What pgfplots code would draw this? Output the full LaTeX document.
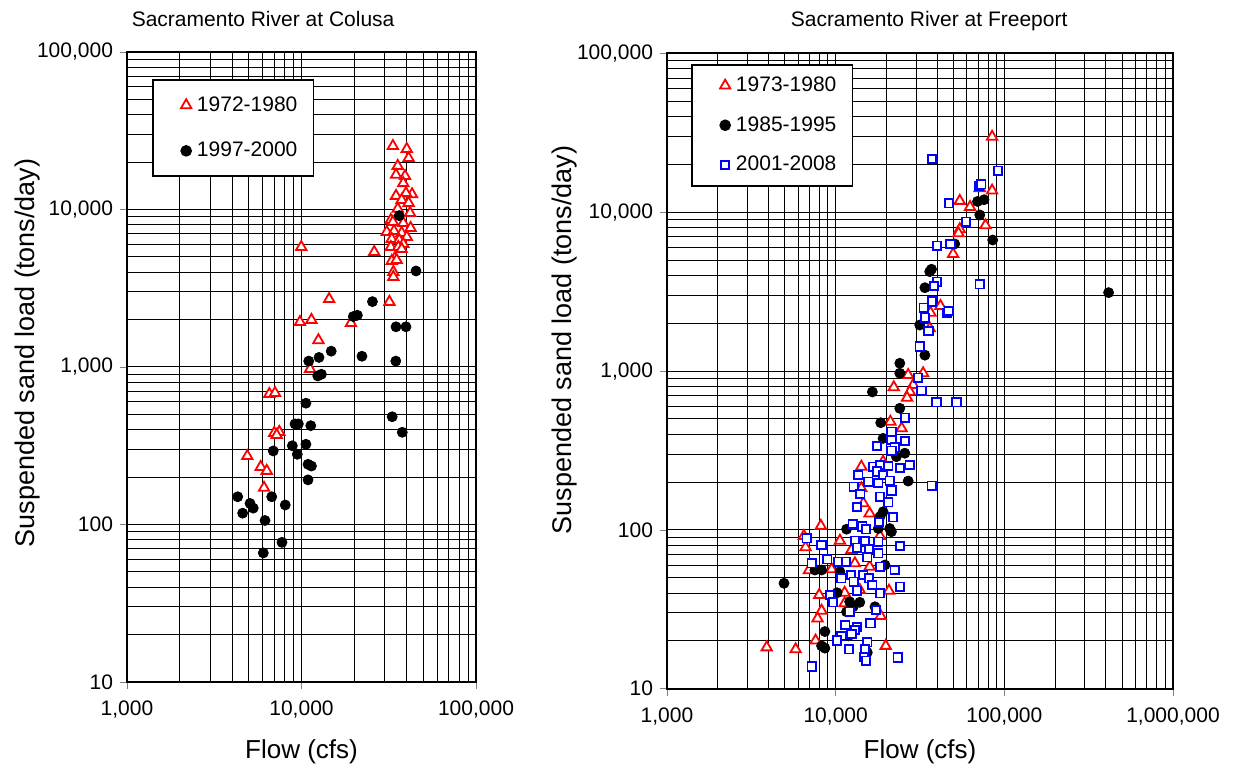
\documentclass[border=0pt]{standalone}
\usepackage{fontspec}
\setmainfont{Liberation Sans}
\usepackage{pgfplots}
\pgfplotsset{compat=1.18}
\definecolor{cRed}{RGB}{255,0,0}
\definecolor{cBlue}{RGB}{0,0,255}
\pgfplotsset{
  legend image code/.code={%
    \path (0pt,0pt) (13.3pt,0pt);
    \draw[#1] plot coordinates {(10.3pt,0pt)};},
  every axis/.append style={
    scale only axis,
    grid=both,
    major grid style={black, line width=0.5pt},
    minor grid style={black, line width=0.5pt},
    axis line style={black, line width=1pt},
    tick align=outside, tick pos=left,
    major tick length=3.5pt, minor tick length=0pt,
    tick label style={font=\fontsize{10.5}{12}\selectfont},
    xticklabel style={yshift=-2.5pt},
    title style={font=\fontsize{10.5}{12}\selectfont, anchor=center, yshift=0pt},
    xlabel style={font=\fontsize{13}{15}\selectfont},
    ylabel style={font=\fontsize{13.5}{16}\selectfont},
    legend cell align=left,
    legend style={draw=black, line width=0.8pt, fill=white,
      font=\fontsize{10.5}{12}\selectfont, anchor=north west,
      inner xsep=6pt, inner ysep=6.25pt, row sep=10pt},
  },
}
\tikzset{
  redtri/.style={only marks, mark=triangle*, mark size=3pt,
    mark options={draw=cRed, fill=white, line width=0.9pt}},
  blkdot/.style={only marks, mark=*, mark size=2.5pt,
    mark options={draw=black, fill=black}},
  bluesq/.style={only marks, mark=square*, mark size=2.1pt,
    mark options={draw=cBlue, fill=white, line width=0.9pt}},
}

\begin{document}
\begin{tikzpicture}
\path[use as bounding box] (0,0) rectangle (616.5pt,385pt);

% Colusa
\begin{loglogaxis}[
  at={(63.5pt,44pt)}, anchor=south west,
  width=174.5pt, height=315pt,
  xmin=1000, xmax=100000, ymin=10, ymax=100000,
  xtick={1000,10000,100000},
  xticklabels={{1,000},{10,000},{100,000}},
  minor xtick={2000,3000,4000,5000,6000,7000,8000,9000,
    20000,30000,40000,50000,60000,70000,80000,90000},
  ytick={10,100,1000,10000,100000},
  yticklabels={10,100,{1,000},{10,000},{100,000}},
  minor ytick={20,30,40,50,60,70,80,90,200,300,400,500,600,700,800,900,
    2000,3000,4000,5000,6000,7000,8000,9000,20000,30000,40000,50000,60000,70000,80000,90000},
  title={Sacramento River at Colusa},
  title style={at={(axis description cs:0.39,1.034)}},
  xlabel={Flow (cfs)},
  ylabel={Suspended sand load (tons/day)},
  xlabel style={at={(axis description cs:0.5,-0.11)}, anchor=center},
  ylabel style={at={(axis description cs:-0.284,0.522)}, anchor=center},
  legend style={at={(axis description cs:0.0716,0.957)}},
]
\addplot[redtri] coordinates {
  (33400,25300) (40100,24200) (41100,21200) (35600,18900) (34800,16600)
  (39200,16300) (38300,14700) (34800,12200) (43000,12500) (39700,12700)
  (37500,11500) (41100,11000) (35600,10100) (41900,9500) (32500,8580)
  (33400,8330) (38300,8200) (42200,7630) (30800,7200) (33900,7300)
  (37500,7100) (40100,6690) (32900,6500) (36300,6400) (38300,6040)
  (32500,5780) (35900,5780) (37500,5610) (34300,4920) (32900,4710)
  (35100,4780) (33600,4010) (33600,3730) (9970,5780) (26100,5370)
  (14400,2700) (31900,2590) (9800,1930) (11400,1990) (19200,1900)
  (12500,1480) (11200,971) (6540,674) (7050,684) (6980,381)
  (7460,387) (7210,370) (4890,272) (5840,232) (6320,219) (6100,171)
};
\addplot[blkdot] coordinates {
  (36300,9140) (45300,4070) (25500,2600) (19800,2090) (20900,2130)
  (34800,1800) (39700,1800) (14800,1260) (22200,1170) (12600,1150)
  (11000,1090) (34700,1090) (12400,877) (13000,899) (10600,589)
  (33100,483) (37800,385) (9180,435) (9590,435) (11300,424)
  (8860,316) (10600,323) (9460,279) (6890,293) (10900,241)
  (11400,235) (10900,192) (6750,150) (8070,133) (4310,150)
  (5070,136) (5290,127) (4600,118) (6180,106) (7730,77) (6040,66)
};
\legend{1972-1980, 1997-2000}
\end{loglogaxis}

% Freeport
\begin{loglogaxis}[
  at={(333.5pt,40.65pt)}, anchor=south west,
  width=253pt, height=317.6pt,
  xmin=1000, xmax=1000000, ymin=10, ymax=100000,
  xtick={1000,10000,100000,1000000},
  xticklabels={{1,000},{10,000},{100,000},{1,000,000}},
  minor xtick={2000,3000,4000,5000,6000,7000,8000,9000,
    20000,30000,40000,50000,60000,70000,80000,90000,
    200000,300000,400000,500000,600000,700000,800000,900000},
  ytick={10,100,1000,10000,100000},
  yticklabels={10,100,{1,000},{10,000},{100,000}},
  minor ytick={20,30,40,50,60,70,80,90,200,300,400,500,600,700,800,900,
    2000,3000,4000,5000,6000,7000,8000,9000,20000,30000,40000,50000,60000,70000,80000,90000},
  title={Sacramento River at Freeport},
  title style={at={(axis description cs:0.518,1.0325)}},
  xlabel={Flow (cfs)},
  ylabel={Suspended sand load (tons/day)},
  xlabel style={at={(axis description cs:0.5,-0.10)}, anchor=center},
  ylabel style={at={(axis description cs:-0.2016,0.549)}, anchor=center},
  legend style={at={(axis description cs:0.0474,0.9835)}, row sep=7pt, inner ysep=4pt},
]
\addplot[redtri] coordinates {
  (84600,29900) (84600,13700) (71500,14200) (54400,11800) (62600,10800)
  (77300,8280) (54400,7820) (53500,7380) (49700,5460) (41800,2570)
  (36500,2330) (36100,1860) (26900,945) (33000,969) (22100,791)
  (28800,818) (27500,742) (26500,680) (21100,480) (24600,436)
  (14200,250) (19100,269) (14200,183) (14600,147) (15900,127)
  (8170,106) (6480,91.6) (10600,85.5) (18300,91.6) (6630,77.7)
  (12400,74.7) (9460,56.5) (6940,55.7) (13000,61.6) (15900,58.6)
  (7990,38.9) (11300,40.2) (13900,41.8) (20700,41.4) (11300,34.5)
  (18500,28.7) (8250,31.0) (7810,27.7) (7600,20.1) (19800,18.6)
  (5790,17.7) (3900,18.2)
};
\addplot[blkdot] coordinates {
  (69300,11700) (75800,12000) (71500,9620) (85300,6690) (50800,6320)
  (37000,4380) (36100,4230) (33800,3350) (31500,1950) (415000,3120)
  (33800,1260) (24000,1120) (24000,969) (16500,739) (24000,583)
  (18500,473) (19100,377) (22900,289) (25700,304) (26900,203)
  (19100,130) (18300,121) (11600,101) (17900,102) (20900,102)
  (21400,97.4) (14400,84.3) (7530,55.9) (8250,55.9) (10600,54.6)
  (19600,60.1) (4940,46.1) (10200,40.2) (12100,35.3) (13900,35.0)
  (12700,32.8) (11600,30.5) (17100,32.8) (8630,22.9) (11900,21.5)
  (8250,18.6) (8630,18.0) (15400,16.9)
};
\addplot[bluesq] coordinates {
  (37300,21600) (91800,18300) (70800,14600) (73100,15000) (47000,11400)
  (59100,8730) (39900,6160) (48000,6320) (71500,3520) (39900,3660)
  (38200,3440) (37300,2740) (33300,2510) (45800,2330) (46800,2390)
  (33800,2170) (35500,1790) (31500,1430) (30800,909) (32300,753)
  (39600,636) (52000,636) (25700,509) (21400,415) (21400,368)
  (25700,363) (17600,338) (22400,331) (21400,315) (13600,222)
  (16700,250) (18300,256) (20500,253) (24000,246) (27500,256)
  (17600,233) (19100,222) (15600,201) (17900,197) (20900,204)
  (37100,190) (12800,187) (21400,177) (14000,168) (18300,162)
  (20500,149) (13400,139) (21900,120) (12600,109) (18100,112)
  (14400,105) (15100,101) (6730,88.5) (13000,85.5) (14900,85.2)
  (17900,84.3) (8250,80.4) (13400,77.3) (15800,75.5) (17900,71.2)
  (24000,79.2) (15400,67.2) (7200,61.6) (8910,65.3) (10300,63.1)
  (11500,63.1) (18300,58.6) (22400,55.9) (10800,49.6) (12300,52.0)
  (14600,52.0) (9240,38.9) (9660,35.0) (12800,47.2) (13400,41.4)
  (15800,49.6) (16500,45.0) (18300,39.9) (24000,43.9) (12100,30.5)
  (17300,31.3) (16100,25.8) (11400,25.2) (13400,24.4) (13000,23.4)
  (10800,21.5) (12400,22.1) (10200,20.1) (15400,19.6) (12000,17.7)
  (14900,17.7) (14700,15.8) (15100,15.0) (23300,15.7) (7200,13.8)
};
\legend{1973-1980, 1985-1995, 2001-2008}
\end{loglogaxis}
\end{tikzpicture}
\end{document}
